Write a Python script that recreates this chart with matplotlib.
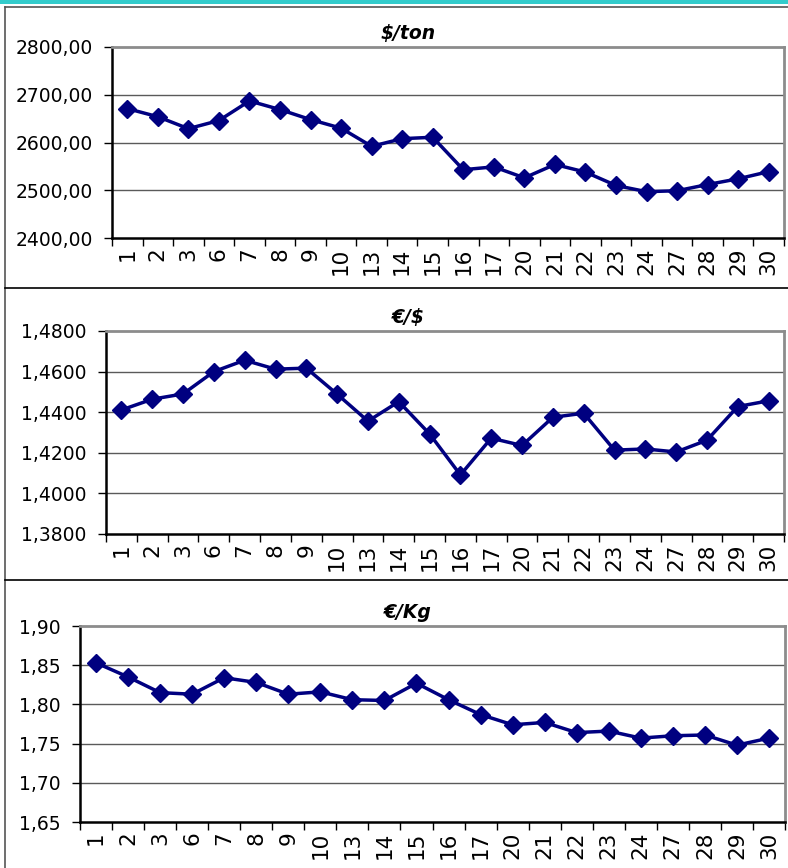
import matplotlib
matplotlib.use("Agg")
import matplotlib.pyplot as plt
from matplotlib.ticker import FixedLocator, FuncFormatter
from matplotlib.lines import Line2D
from matplotlib.patches import Rectangle

# ---- data ----
days = ["1", "2", "3", "6", "7", "8", "9", "10", "13", "14", "15",
        "16", "17", "20", "21", "22", "23", "24", "27", "28", "29", "30"]

usd_ton = [2671, 2654, 2629, 2646, 2687, 2669, 2648, 2630, 2592, 2608, 2611,
           2543, 2549, 2526, 2554, 2538, 2510, 2497, 2499, 2512, 2524, 2539]

eur_usd = [1.4411, 1.4464, 1.4490, 1.4600, 1.4656, 1.4612, 1.4617, 1.4489,
           1.4356, 1.4452, 1.4293, 1.4091, 1.4272, 1.4236, 1.4375, 1.4395,
           1.4213, 1.4219, 1.4204, 1.4262, 1.4428, 1.4456]

eur_kg = [1.853, 1.835, 1.815, 1.813, 1.834, 1.828, 1.813, 1.816, 1.806,
          1.805, 1.827, 1.806, 1.787, 1.774, 1.777, 1.764, 1.766, 1.757,
          1.760, 1.761, 1.748, 1.757]

titles = ["$/ton", "€/$", "€/Kg"]

W, H = 788, 868
fig = plt.figure(figsize=(W / 100, H / 100), dpi=100)


def box(l, t, r, b):
    # pixel box -> figure fraction rect
    return [l / W, 1 - b / H, (r - l) / W, (b - t) / H]


panels = [
    # series, title, axes box, ylim, step, decimals, title y
    (usd_ton, titles[0], (112, 47, 784, 238), (2400, 2800), 100, 2, 33),
    (eur_usd, titles[1], (106, 331, 784, 534), (1.38, 1.48), 0.02, 4, 318),
    (eur_kg, titles[2], (80, 626, 785, 822), (1.65, 1.90), 0.05, 2, 612),
]

x = list(range(len(days)))

for values, title, rect, (lo, hi), step, dec, ty in panels:
    ax = fig.add_axes(box(*rect))
    ax.plot(x, values, color="#000080", linewidth=2.5, marker="D",
            markersize=9, markerfacecolor="#000080",
            markeredgecolor="#000080", zorder=3)
    ax.set_xlim(-0.5, len(days) - 0.5)
    ax.set_ylim(lo, hi)

    n = int(round((hi - lo) / step))
    yt = [lo + i * step for i in range(n + 1)]
    ax.yaxis.set_major_locator(FixedLocator(yt))
    ax.yaxis.set_major_formatter(
        FuncFormatter(lambda v, p, d=dec: f"{v:.{d}f}".replace(".", ",")))
    for v in yt[1:-1]:
        ax.axhline(v, color="#5a5a5a", linewidth=1.0, zorder=1)

    ax.set_xticks(x)
    ax.set_xticklabels(days, rotation=90, fontsize=15.5)
    ax.tick_params(axis="x", which="major", length=0, pad=7)
    ax.set_xticks([i - 0.5 for i in range(len(days) + 1)], minor=True)
    ax.tick_params(axis="x", which="minor", length=6, width=1, color="#000000")
    ax.tick_params(axis="y", length=6, width=1, labelsize=13.5, pad=8)

    ax.spines["left"].set_color("#000000")
    ax.spines["bottom"].set_color("#000000")
    ax.spines["left"].set_linewidth(1.8)
    ax.spines["bottom"].set_linewidth(1.8)
    ax.spines["top"].set_color("#8c8c8c")
    ax.spines["right"].set_color("#8c8c8c")
    ax.spines["top"].set_linewidth(2)
    ax.spines["right"].set_linewidth(2)

    fig.text(408 / W, 1 - ty / H, title, ha="center", va="center",
             fontsize=13.5, fontweight="bold", fontstyle="italic")

# frame around the chart sheet
fig.add_artist(Rectangle((0, 1 - 3.5 / H), 1, 3.5 / H, transform=fig.transFigure,
                         facecolor="#33cccc", edgecolor="none"))
fig.add_artist(Line2D([4.5 / W, 1], [1 - 6.5 / H] * 2, transform=fig.transFigure,
                      color="#555555", linewidth=1.2))
fig.add_artist(Line2D([4.5 / W] * 2, [0, 1 - 6.5 / H], transform=fig.transFigure,
                      color="#555555", linewidth=1.2))
for sy in (288, 580):
    fig.add_artist(Line2D([4.5 / W, 1], [1 - sy / H] * 2, transform=fig.transFigure,
                          color="#000000", linewidth=1.2))

fig.savefig("out.png", dpi=100)
